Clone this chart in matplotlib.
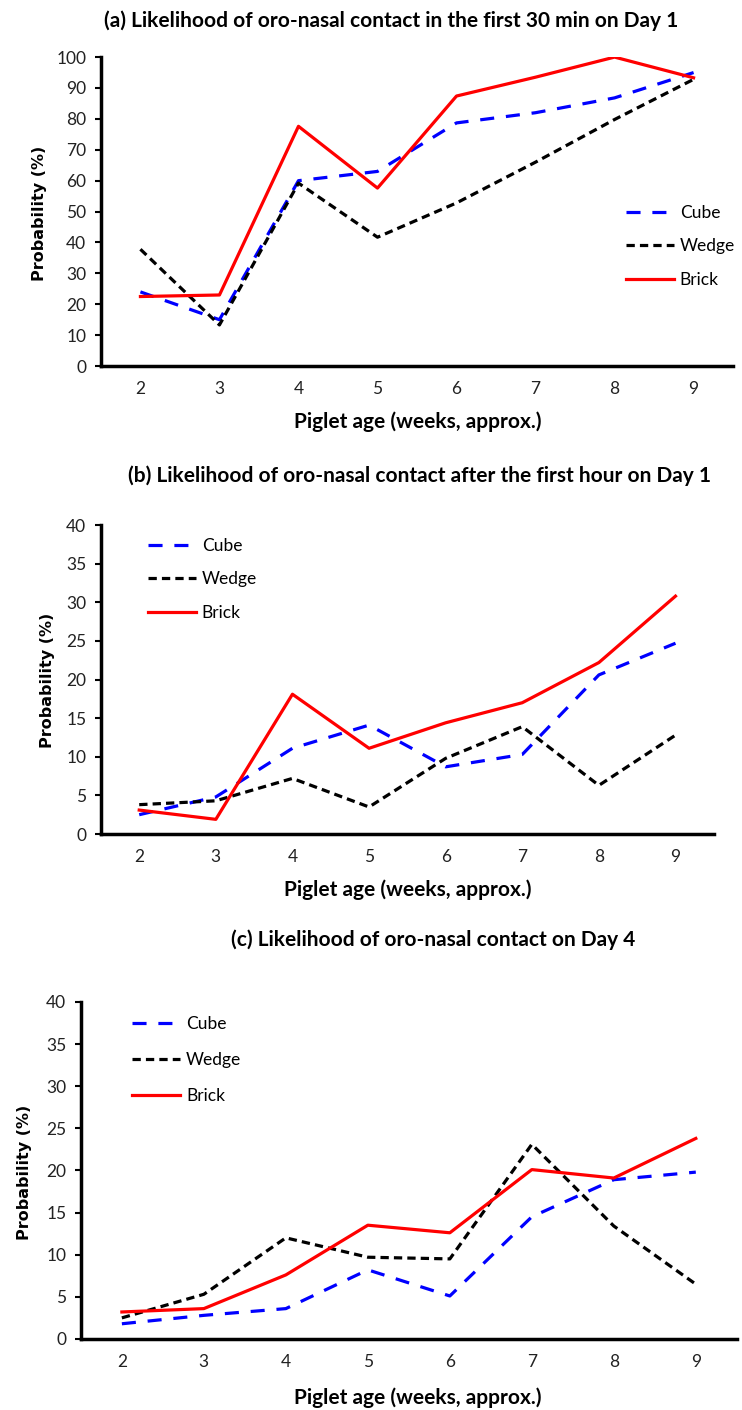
import matplotlib
matplotlib.use('Agg')
import matplotlib.pyplot as plt

weeks = [2, 3, 4, 5, 6, 7, 8, 9]

# (a) first 30 min on Day 1
cube_a = [24, 15, 60, 63, 78.7, 82, 86.8, 95]
wedge_a = [37.8, 13.3, 59.2, 41.7, 52.8, 66, 79.8, 92.8]
brick_a = [22.5, 23, 77.6, 57.6, 87.4, 93.5, 100, 93.3]

# (b) after the first hour on Day 1
cube_b = [2.5, 4.8, 11.1, 14.1, 8.7, 10.3, 20.6, 24.7]
wedge_b = [3.8, 4.3, 7.2, 3.5, 9.8, 13.9, 6.3, 12.8]
brick_b = [3.1, 1.9, 18.1, 11.1, 14.4, 17.0, 22.2, 30.8]

# (c) Day 4
cube_c = [1.8, 2.8, 3.6, 8.2, 5.1, 14.5, 18.9, 19.8]
wedge_c = [2.5, 5.3, 12.0, 9.7, 9.5, 23.1, 13.4, 6.5]
brick_c = [3.2, 3.6, 7.6, 13.5, 12.6, 20.1, 19.1, 23.8]

titles = ["(a) Likelihood of oro-nasal contact in the first 30 min on Day 1",
          "(b) Likelihood of oro-nasal contact after the first hour on Day 1",
          "(c) Likelihood of oro-nasal contact on Day 4"]

# pixel positions (x, y from top-left)
panels = [
    dict(data=(cube_a, wedge_a, brick_a), pos=[0.136, 0.7404, 0.852, 0.2191], ymax=100, step=10,
         title_xy=(391, 21), xlab_xy=(418, 422), ylab_xy=(40, 213), leg=(0.8437, 0.8546), ls=1.0),
    dict(data=(cube_b, wedge_b, brick_b), pos=[0.136, 0.4085, 0.826, 0.2191], ymax=40, step=5,
         title_xy=(419, 476), xlab_xy=(408, 890), ylab_xy=(48, 680), leg=(0.1995, 0.6184), ls=1.0),
    dict(data=(cube_c, wedge_c, brick_c), pos=[0.109, 0.0504, 0.884, 0.2390], ymax=40, step=5,
         title_xy=(433, 940), xlab_xy=(418, 1398), ylab_xy=(25, 1172), leg=(0.178, 0.2794), ls=1.15),
]

W, H = 742, 1410
fig = plt.figure(figsize=(W / 100, H / 100), dpi=100)
calibri = ['Lato', 'DejaVu Sans']

for i, p in enumerate(panels):
    ax = fig.add_axes(p['pos'])
    cube, wedge, brick = p['data']
    ax.plot(weeks, cube, color='#0000FF', lw=2.3, dashes=(4.4, 3.7), label='Cube')
    ax.plot(weeks, wedge, color='black', lw=2.3, dashes=(2.6, 1.6), label='Wedge')
    ax.plot(weeks, brick, color='#FF0000', lw=2.3, label='Brick')
    ax.set_xlim(1.5, 9.5)
    ax.set_ylim(0, p['ymax'])
    ax.set_yticks(range(0, p['ymax'] + 1, p['step']))
    ax.set_xticks(weeks)
    for s in ['top', 'right']:
        ax.spines[s].set_visible(False)
    for s in ['left', 'bottom']:
        ax.spines[s].set_linewidth(2.5)
    ax.tick_params(axis='y', length=4.5, width=1.5, pad=6)
    ax.tick_params(axis='x', length=0, pad=11)
    for lab in ax.get_xticklabels() + ax.get_yticklabels():
        lab.set_family(calibri)
        lab.set_fontsize(12.5)
        lab.set_color('#222222')
    fig.text(p['title_xy'][0] / W, 1 - p['title_xy'][1] / H, titles[i], ha='center', va='center',
             fontsize=15, fontweight='bold', family=calibri)
    fig.text(p['xlab_xy'][0] / W, 1 - p['xlab_xy'][1] / H, 'Piglet age (weeks, approx.)', ha='center',
             va='center', fontsize=15, fontweight='bold', family=calibri)
    fig.text(p['ylab_xy'][0] / W, 1 - p['ylab_xy'][1] / H, 'Probability (%)', ha='center', va='center',
             rotation=90, fontsize=11.5, fontweight='bold', family='DejaVu Sans')
    ax.legend(loc='upper left', bbox_to_anchor=p['leg'], bbox_transform=fig.transFigure,
              frameon=False, borderpad=0, borderaxespad=0, handlelength=2.75,
              handletextpad=0.35, labelspacing=p['ls'], prop={'family': calibri, 'size': 12.5})

fig.savefig('out.png', dpi=100)
